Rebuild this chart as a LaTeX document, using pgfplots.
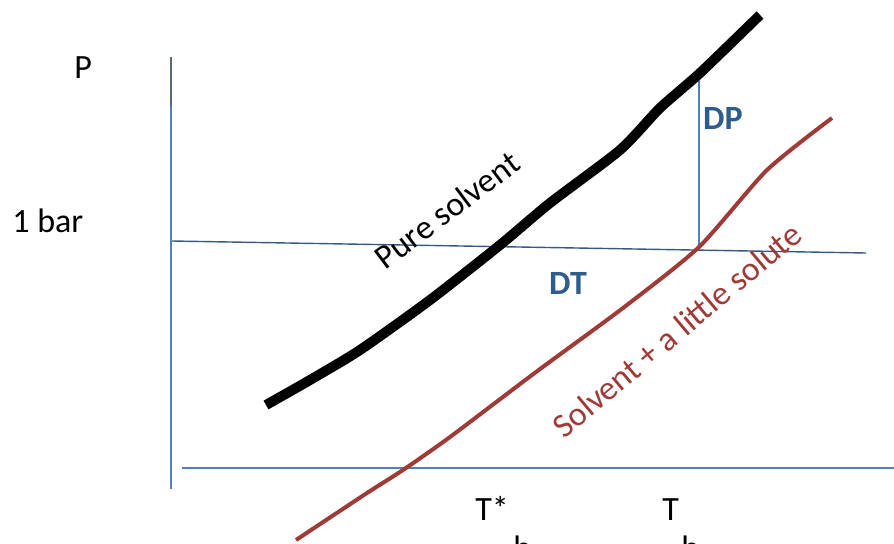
\documentclass[border=0pt]{standalone}
\usepackage{pgfplots}
\pgfplotsset{compat=1.18}
\usepackage{fontspec}
\setmainfont{Carlito}
\definecolor{axblue}{RGB}{79,129,189}
\definecolor{axdark}{RGB}{90,105,125}
\definecolor{curvered}{RGB}{160,58,55}
\definecolor{txtblue}{RGB}{46,92,140}
\tikzset{lbl/.style={font=\fontsize{17pt}{20pt}\selectfont, inner sep=0pt}}
\begin{document}
\begin{tikzpicture}
\useasboundingbox (0,0) rectangle (447pt,271.5pt);
\begin{axis}[
  scale only axis, width=447pt, height=271.5pt,
  xmin=0, xmax=894, ymin=0, ymax=543,
  hide axis, clip=false,
]
% axes-like lines
\addplot[axblue, line width=0.8pt] coordinates {(171,486) (171,54)};
\addplot[axdark, line width=1.1pt] coordinates {(171,486) (171,436)};
\addplot[axblue, line width=0.9pt] coordinates {(182,75) (894,75)};
% 1 bar line
\addplot[axblue!70!black, line width=0.7pt] coordinates {(172,302) (866,290)};
% DP vertical
\addplot[axblue, line width=0.8pt] coordinates {(699,466) (699,295)};
% pure solvent
\addplot[black, line width=5pt, line join=round, smooth, tension=0.4] coordinates {
 (266,138) (310,163) (360,193) (430,243) (500,298) (550,340) (620,393) (660,435) (700,470) (760,528)};
% solvent + solute
\addplot[curvered, line width=2pt, line join=round, smooth, tension=0.4] coordinates {
 (296,3) (367,50) (403,73) (450,106) (536,171) (623,235) (699,296) (767,373) (832,425)};
% labels
\node[lbl, anchor=base west] at (axis cs:74,465) {P};
\node[lbl, anchor=base west] at (axis cs:12,311) {1 bar};
\node[lbl, anchor=base west] at (axis cs:475,23) {T*};
\node[lbl, anchor=north west] at (axis cs:513,8) {b};
\node[lbl, anchor=base west] at (axis cs:662,23) {T};
\node[lbl, anchor=north west] at (axis cs:681,8) {b};
\node[lbl, txtblue, font=\fontsize{17pt}{20pt}\selectfont\bfseries] at (axis cs:723,425) {DP};
\node[lbl, txtblue, font=\fontsize{17pt}{20pt}\selectfont\bfseries] at (axis cs:568,260) {DT};
\node[lbl, rotate=37] at (axis cs:447,333) {Pure solvent};
\node[lbl, curvered, rotate=40] at (axis cs:677,213) {Solvent + a little solute};
\end{axis}
\end{tikzpicture}
\end{document}
